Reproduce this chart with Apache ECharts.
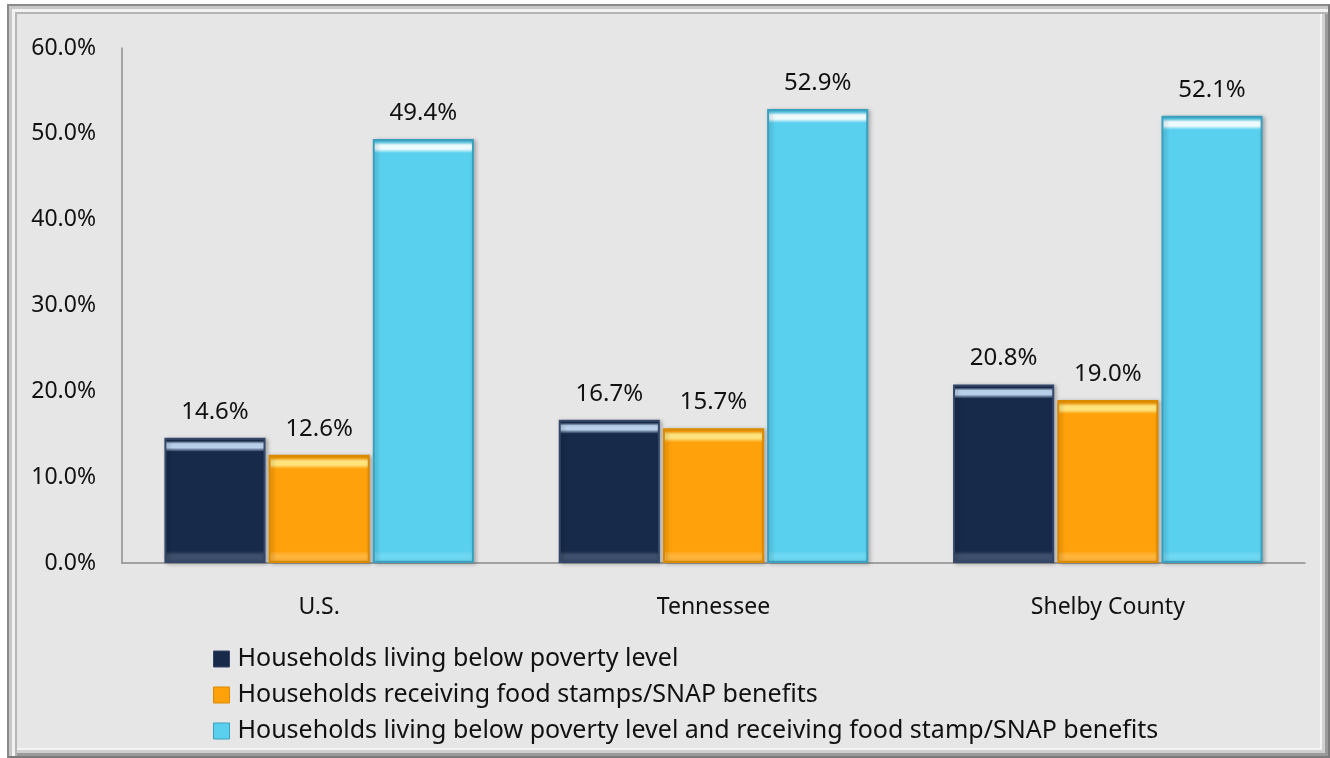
<!DOCTYPE html>
<html>
<head>
<meta charset="utf-8">
<script src="https://cdn.jsdelivr.net/npm/echarts@6/dist/echarts.min.js"></script>
<style>
  html, body { margin: 0; padding: 0; background: #ffffff; }
  #frame {
    position: absolute; left: 7px; top: 4px; width: 1323px; height: 754px;
    box-sizing: border-box;
    background: #e6e6e6;
    border-top: 2px solid #8a8a8a; border-left: 2px solid #8a8a8a;
    border-right: 2px solid #7a7a7a; border-bottom: 2px solid #7a7a7a;
    box-shadow: inset 3px 3px 0 #c8c8c8, inset 6px 6px 0 #f2f2f2, inset 8px 8px 0 #b5b5b5,
                inset -3px -3px 0 #9a9a9a, inset -6px -6px 0 #d0d0d0, inset -8px -8px 0 #f4f4f4;
  }
  #chart { position: absolute; left: 0; top: 0; width: 1330px; height: 758px; }
</style>
</head>
<body>
<div id="frame"></div>
<div id="chart"></div>
<script>
// Household poverty and SNAP participation by geography
const categories = ['U.S.', 'Tennessee', 'Shelby County'];
const seriesNames = [
  'Households living below poverty level',
  'Households receiving food stamps/SNAP benefits',
  'Households living below poverty level and receiving food stamp/SNAP benefits'
];
const belowPoverty = [14.6, 16.7, 20.8];
const receivingSnap = [12.6, 15.7, 19.0];
const povertyAndSnap = [49.4, 52.9, 52.1];
const yTicks = [0, 10, 20, 30, 40, 50, 60];

const FONT = '"Noto Sans", "Open Sans", sans-serif';

// Bevel look: light band near the top, softer rim at the bottom of each bar
const palette = [
  { base: '#172a4a', light: '#b9d0ea', low: '#3d4f6c', edge: '#34476a' },
  { base: '#ffa10a', light: '#ffe47e', low: '#ffb43a', edge: '#d98a00' },
  { base: '#5ad0ef', light: '#effcff', low: '#6fd8f2', edge: '#3aa0bd' }
];
const PX_PER_UNIT = 515 / 60;
function bevelFill(v, p) {
  const h = v * PX_PER_UNIT;
  const f = px => Math.min(0.49, px / h);
  return {
    type: 'linear', x: 0, y: 0, x2: 0, y2: 1,
    colorStops: [
      { offset: 0, color: p.edge },
      { offset: f(3), color: p.base },
      { offset: f(6), color: p.light },
      { offset: f(10), color: p.light },
      { offset: f(14), color: p.base },
      { offset: 1 - f(12), color: p.base },
      { offset: 1 - f(8), color: p.low },
      { offset: 1 - f(3), color: p.low },
      { offset: 1, color: p.edge }
    ]
  };
}

function makeSeries(name, values, p) {
  return {
    name: name,
    type: 'bar',
    barGap: '3%',
    barCategoryGap: '21.5%',
    data: values.map(v => ({ value: v, itemStyle: { color: bevelFill(v, p) } })),
    itemStyle: {
      borderColor: p.edge, borderWidth: 2,
      shadowColor: 'rgba(0,0,0,0.25)', shadowBlur: 4, shadowOffsetX: 2, shadowOffsetY: 1
    },
    label: {
      show: true, position: 'top', distance: 14,
      color: '#111', fontFamily: FONT, fontSize: 24,
      formatter: d => d.value.toFixed(1) + '%'
    }
  };
}

const chart = echarts.init(document.getElementById('chart'), null, { renderer: 'canvas' });
chart.setOption({
  animation: false,
  backgroundColor: 'transparent',
  grid: { left: 122, right: 25, top: 48, bottom: 195, containLabel: false },
  xAxis: {
    type: 'category',
    data: categories,
    axisLine: { lineStyle: { color: '#8c8c8c', width: 1.5 } },
    axisTick: { show: false },
    axisLabel: { color: '#111', fontFamily: FONT, fontSize: 23, margin: 33 }
  },
  yAxis: {
    type: 'value',
    min: yTicks[0], max: yTicks[yTicks.length - 1], interval: 10,
    axisLine: { show: true, lineStyle: { color: '#8c8c8c', width: 1.5 } },
    axisTick: { show: false },
    splitLine: { show: false },
    axisLabel: {
      color: '#111', fontFamily: FONT, fontSize: 23, margin: 26,
      formatter: v => v.toFixed(1) + '%'
    }
  },
  legend: {
    orient: 'vertical',
    left: 208, top: 641,
    itemWidth: 16, itemHeight: 16, itemGap: 10,
    icon: 'rect',
    textStyle: { color: '#111', fontFamily: FONT, fontSize: 25, lineHeight: 26, padding: [0, 0, 0, 3] },
    data: seriesNames.map((n, i) => ({ name: n, itemStyle: { color: palette[i].base, borderColor: palette[i].edge, borderWidth: 1 } }))
  },
  series: [
    makeSeries(seriesNames[0], belowPoverty, palette[0]),
    makeSeries(seriesNames[1], receivingSnap, palette[1]),
    makeSeries(seriesNames[2], povertyAndSnap, palette[2])
  ]
});
</script>
</body>
</html>
